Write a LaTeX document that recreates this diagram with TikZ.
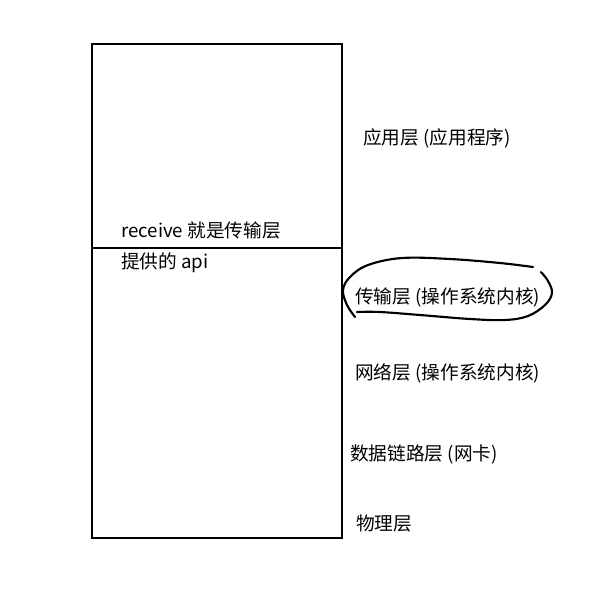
\documentclass[tikz,border=0pt]{standalone}
\usepackage{fontspec}
\newfontfamily\cjk{Noto Sans CJK SC}
\usetikzlibrary{positioning}
\tikzset{
  layer/.style={anchor=west,inner sep=0pt,font=\cjk\fontsize{14}{16}\selectfont},
  box/.style={line width=2.2pt,black},
  pen/.style={line width=1.6pt,black,line cap=round,line join=round}
}

\begin{document}
\begin{tikzpicture}[x=0.75pt,y=-0.75pt]
  \useasboundingbox (0,0) rectangle (605,600);
  \coordinate (tl) at (92,44); \coordinate (br) at (342,538);
  \coordinate (ml) at (92,248); \coordinate (mr) at (343,248);
  \draw[box] (tl) rectangle (br);
  \draw[box] (ml) -- (mr);
  % text inside the box
  \node[layer] (recv) at (121,230) {receive 就是传输层};
  \node[layer] (api) at (121,263) {提供的 api};
  % layer names
  \node[layer] (app) at (363,138) {应用层 (应用程序)};
  \node[layer] (trans) at (355,297) {传输层 (操作系统内核)};
  \node[layer] (net) at (355,373) {网络层 (操作系统内核)};
  \node[layer] (link) at (350,454) {数据链路层 (网卡)};
  \node[layer] (phys) at (356,523) {物理层};
  % hand drawn loop round the transport layer
  \draw[pen] plot[smooth,tension=0.6] coordinates {(355,317) (347,305) (343,290) (350,277) (368,265) (402,258) (450,259) (500,263) (533,267)};
  \draw[pen] plot[smooth,tension=0.6] coordinates {(541,272) (548,281) (552,293) (545,305) (528,316) (505,320) (470,319) (420,315) (380,312) (357,312)};
\end{tikzpicture}
\end{document}
